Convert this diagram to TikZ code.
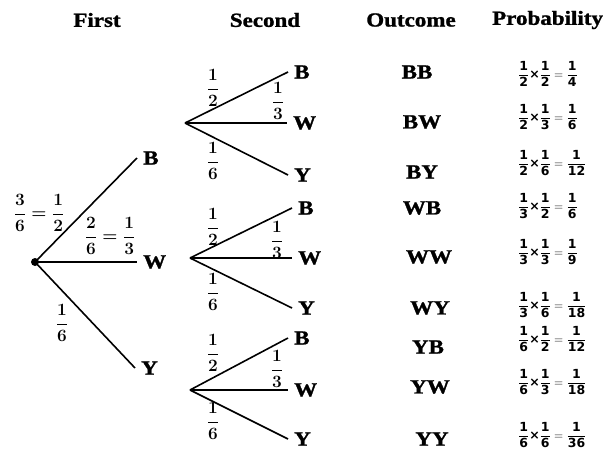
\documentclass[tikz,border=0pt]{standalone}
\usepackage{amsmath}
\usepackage{fontspec}
\setmainfont{Liberation Serif}[BoldFeatures={FakeBold=1.2}]
\newfontfamily\pfont{DejaVu Sans}
\newcommand\wide[1]{\scalebox{1.15}[1]{#1}}
\newcommand\pf[2]{\dfrac{\text{#1}}{\text{#2}}}
\newcommand\prow[3]{$\pf1{#1}\text{×}\pf1{#2}=\pf1{#3}$}
\tikzset{
  hdr/.style={font=\fontsize{20}{24}\selectfont\bfseries, inner sep=0pt},
  letter/.style={font=\fontsize{20}{24}\selectfont\bfseries, inner sep=0pt, inner xsep=6pt, anchor=west},
  outc/.style={font=\fontsize{20}{24}\selectfont\bfseries, inner sep=0pt},
  branch/.style={line width=1.6pt},
  frl/.style={font=\fontsize{16}{19}\selectfont\boldmath, inner sep=0pt},
  prob/.style={font=\fontsize{12.5}{15}\selectfont\pfont\bfseries, anchor=west, inner sep=0pt},
}
\begin{document}
\begin{tikzpicture}[x=1pt,y=-1pt]
\useasboundingbox (0,0) rectangle (615,450);
% headers
\node[hdr] (h1) at (97,20) {\wide{First}};
\node[hdr] (h2) at (265,20) {\wide{Second}};
\node[hdr] (h3) at (411,20) {\wide{Outcome}};
\node[hdr, anchor=west] (h4) at (492,20) {\wide{Probability}};
% root
\node[circle, fill, inner sep=0pt, minimum size=8pt] (R) at (35,262) {};
\node[letter] (B1) at (137,158) {\wide{B}};
\node[letter] (W1) at (137,262) {\wide{W}};
\node[letter] (Y1) at (135,368) {\wide{Y}};
\draw[branch] (R.center) -- (B1.west);
\draw[branch] (R.center) -- (W1.west);
\draw[branch] (R.center) -- (Y1.west);
\node[frl] (f1) at (39,213) {$\dfrac{3}{6}=\dfrac{1}{2}$};
\node[frl] (f2) at (110,236) {$\dfrac{2}{6}=\dfrac{1}{3}$};
\node[frl] (f3) at (62,323) {$\dfrac{1}{6}$};
% group 1
\coordinate (o1) at (185,123);
\node[letter] (BB) at (288,72) {\wide{B}};
\node[letter] (BW) at (287,123) {\wide{W}};
\node[letter] (BY) at (288,175) {\wide{Y}};
\draw[branch] (o1) -- (BB.west);
\draw[branch] (o1) -- (BW.west);
\draw[branch] (o1) -- (BY.west);
\node[frl] (g1a) at (213,88) {$\dfrac{1}{2}$};
\node[frl] (g1b) at (278,101) {$\dfrac{1}{3}$};
\node[frl] (g1c) at (213,161) {$\dfrac{1}{6}$};
% group 2
\coordinate (o2) at (190,258);
\node[letter] (WB) at (292,208) {\wide{B}};
\node[letter] (WW) at (292,258) {\wide{W}};
\node[letter] (WY) at (292,308) {\wide{Y}};
\draw[branch] (o2) -- (WB.west);
\draw[branch] (o2) -- (WW.west);
\draw[branch] (o2) -- (WY.west);
\node[frl] (g2a) at (213,227) {$\dfrac{1}{2}$};
\node[frl] (g2b) at (277,240) {$\dfrac{1}{3}$};
\node[frl] (g2c) at (213,292) {$\dfrac{1}{6}$};
% group 3
\coordinate (o3) at (190,390);
\node[letter] (YB) at (288,338) {\wide{B}};
\node[letter] (YW) at (288,390) {\wide{W}};
\node[letter] (YY) at (288,439) {\wide{Y}};
\draw[branch] (o3) -- (YB.west);
\draw[branch] (o3) -- (YW.west);
\draw[branch] (o3) -- (YY.west);
\node[frl] (g3a) at (213,353) {$\dfrac{1}{2}$};
\node[frl] (g3b) at (277,369) {$\dfrac{1}{3}$};
\node[frl] (g3c) at (213,421) {$\dfrac{1}{6}$};
% outcomes
\node[outc] (oBB) at (417,72) {\wide{BB}};
\node[outc] (oBW) at (422,122) {\wide{BW}};
\node[outc] (oBY) at (422,172) {\wide{BY}};
\node[outc] (oWB) at (422,208) {\wide{WB}};
\node[outc] (oWW) at (429,257) {\wide{WW}};
\node[outc] (oWY) at (430,308) {\wide{WY}};
\node[outc] (oYB) at (428,347) {\wide{YB}};
\node[outc] (oYW) at (430,387) {\wide{YW}};
\node[outc] (oYY) at (432,439) {\wide{YY}};
% probabilities
\node[prob] (p1) at (518,74) {\prow{2}{2}{4}};
\node[prob] (p2) at (518,117) {\prow{2}{3}{6}};
\node[prob] (p3) at (518,163) {\prow{2}{6}{12}};
\node[prob] (p4) at (518,206) {\prow{3}{2}{6}};
\node[prob] (p5) at (518,252) {\prow{3}{3}{9}};
\node[prob] (p6) at (518,305) {\prow{3}{6}{18}};
\node[prob] (p7) at (518,339) {\prow{6}{2}{12}};
\node[prob] (p8) at (518,382) {\prow{6}{3}{18}};
\node[prob] (p9) at (518,435) {\prow{6}{6}{36}};
\end{tikzpicture}
\end{document}
